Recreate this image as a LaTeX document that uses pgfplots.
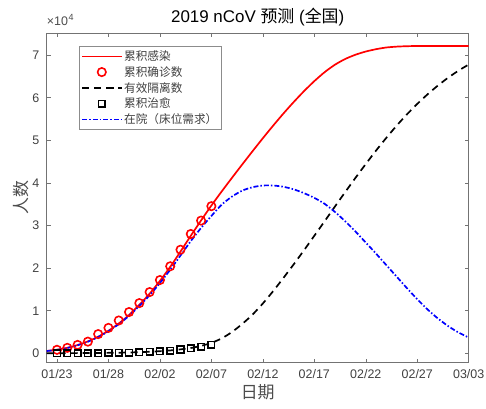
\documentclass[border=0pt]{standalone}
\usepackage{fontspec}
\setmainfont{Liberation Sans}
\newfontfamily\cjk{Noto Sans CJK SC}
\usepackage{pgfplots}
\pgfplotsset{compat=1.18}
\usepackage{pgfplotstable}

% day index: 0 = 01/23, 40 = 03/03
\pgfplotstableread{
d    v
-1   560
0    850
1    1300
2    1950
3    2800
4    3900
5    5300
6    7000
7    9000
8    11400
9    14000
10   17000
11   20300
12   23900
13   27600
14   31200
15   34700
16   38000
17   41200
18   44350
19   47450
20   50500
21   53450
22   56300
23   59000
24   61550
25   63900
26   66000
27   67750
28   69100
29   70100
30   70850
31   71400
32   71800
33   72000
34   72100
35   72150
36   72150
37   72150
38   72150
39   72150
40   72150
}\infected

\pgfplotstableread{
d    v
0    830
1    1287
2    1975
3    2744
4    4515
5    5974
6    7711
7    9692
8    11791
9    14380
10   17205
11   20438
12   24324
13   28018
14   31161
15   34546
}\confirmed

\pgfplotstableread{
d    v
-1   20
0    35
1    45
2    55
3    70
4    90
5    115
6    150
7    200
8    270
9    370
10   500
11   680
12   930
13   1250
14   1750
15   2450
16   3500
17   5000
18   6900
19   9100
20   11700
21   14600
22   17700
23   20900
24   24200
25   27600
26   31000
27   34450
28   37850
29   41200
30   44450
31   47600
32   50600
33   53450
34   56100
35   58550
36   60800
37   62850
38   64700
39   66350
40   67800
}\isolated

\pgfplotstableread{
d    v
0    34
1    38
2    49
3    51
4    60
5    103
6    124
7    171
8    243
9    328
10   475
11   632
12   892
13   1153
14   1540
15   2050
}\cured

\pgfplotstableread{
d    v
-1   540
0    815
1    1255
2    1895
3    2730
4    3810
5    5185
6    6850
7    8800
8    11130
9    13630
10   16500
11   19620
12   22970
13   26350
14   29450
15   32250
16   34900
17   36800
18   38200
19   39000
20   39400
21   39400
22   39100
23   38500
24   37600
25   36500
26   35100
27   33200
28   31000
29   28600
30   26000
31   23400
32   20700
33   18000
34   15300
35   12700
36   10300
37   8200
38   6400
39   4900
40   3700
}\inhospital

\begin{document}
\begin{tikzpicture}
\path[use as bounding box] (-46.7bp,-46.3bp) rectangle (439.3bp,362.7bp);
\begin{axis}[
  at={(0,0)}, anchor=south west,
  scale only axis,
  width=422bp, height=329.7bp,
  xmin=-1, xmax=40,
  ymin=-2200, ymax=75200,
  scaled y ticks=false,
  xtick={0,5,...,40},
  xticklabels={01/23,01/28,02/02,02/07,02/12,02/17,02/22,02/27,03/03},
  ytick={0,10000,...,70000},
  yticklabels={0,1,2,3,4,5,6,7},
  tick align=inside,
  major tick length=4bp,
  axis line style={black!55, line width=0.5pt},
  every tick/.style={black!55, line width=0.5pt},
  tick label style={font=\fontsize{12.5}{14}\selectfont, text=black!75},
  xticklabel style={yshift=-3bp},
  yticklabel style={xshift=-4bp},
  xlabel={\cjk 日期},
  ylabel={\cjk 人数},
  label style={font=\fontsize{17}{19}\selectfont, text=black!70},
  xlabel style={yshift=1bp},
  ylabel style={yshift=-3bp},
  title={2019 nCoV {\cjk 预测} ({\cjk 全国})},
  title style={font=\fontsize{17}{19}\selectfont, yshift=-3bp},
  legend style={at={(0.077,0.9606)}, anchor=north west,
    draw=black!45, fill=white, line width=0.5pt,
    font=\cjk\fontsize{11.7}{13}\selectfont, text=black!75,
    inner xsep=2bp, inner ysep=2.5bp, row sep=0.4bp},
  legend cell align=left,
  legend image code/.code={\draw[mark repeat=2,mark phase=2,#1] plot coordinates {(0bp,0bp) (19.5bp,0bp) (39bp,0bp)};},
  clip=true,
]
\addplot[red, line width=1.7pt, smooth, tension=0.4] table[x=d,y=v] {\infected};
\addlegendentry{累积感染}
\addplot[red, only marks, mark=o, mark size=4.2bp, line width=1.6pt] table[x=d,y=v] {\confirmed};
\addlegendentry{累积确诊数}
\addplot[black, line width=1.7pt, dash pattern=on 7bp off 5bp, smooth, tension=0.4] table[x=d,y=v] {\isolated};
\addlegendentry{有效隔离数}
\addplot[black, only marks, mark=square, mark size=3.3bp, line width=1.5pt] table[x=d,y=v] {\cured};
\addlegendentry{累积治愈}
\addplot[blue, line width=1.7pt, dash pattern=on 5bp off 2bp on 1.5bp off 2bp, smooth, tension=0.4] table[x=d,y=v] {\inhospital};
\addlegendentry{在院（床位需求）}
\end{axis}
% exponent of the y axis
\node (yexp) [anchor=base west, font=\fontsize{12.5}{14}\selectfont, text=black!70, inner sep=0pt] at (0bp,337bp) {×10};
\node [anchor=base west, font=\fontsize{9}{10}\selectfont, text=black!70, inner sep=0pt] at ([xshift=0.3bp,yshift=5bp]yexp.base east) {4};
\end{tikzpicture}
\end{document}
